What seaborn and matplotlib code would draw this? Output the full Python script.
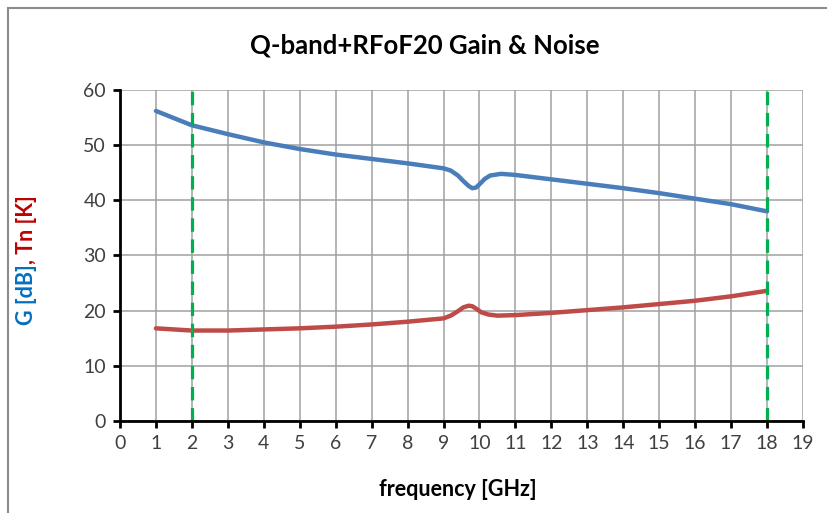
import pandas as pd
import matplotlib
matplotlib.use("Agg")
import matplotlib.pyplot as plt
from matplotlib.patches import Rectangle
import seaborn as sns

# Values
gain_freq = [1, 2, 3, 4, 5, 6, 7, 8, 9, 9.2, 9.4, 9.55, 9.7, 9.8, 9.9, 10.0, 10.15, 10.3,
             10.6, 11, 12, 13, 14, 15, 16, 17, 18]
gain_db = [56.2, 53.6, 52.0, 50.5, 49.3, 48.3, 47.5, 46.7, 45.8, 45.4, 44.5, 43.5, 42.6,
           42.2, 42.3, 42.9, 43.9, 44.5, 44.8, 44.6, 43.8, 43.0, 42.2, 41.3, 40.3, 39.3, 38.0]

noise_freq = [1, 2, 3, 4, 5, 6, 7, 8, 9, 9.2, 9.4, 9.55, 9.7, 9.8, 9.9, 10.05, 10.25,
              10.5, 11, 12, 13, 14, 15, 16, 17, 18]
noise_k = [16.8, 16.4, 16.4, 16.6, 16.8, 17.1, 17.5, 18.0, 18.6, 19.1, 19.9, 20.6, 20.9,
           20.8, 20.4, 19.7, 19.3, 19.1, 19.2, 19.6, 20.1, 20.6, 21.2, 21.8, 22.6, 23.6]

band_edges = [2, 18]
x_ticks = list(range(0, 20))
y_ticks = list(range(0, 70, 10))

df = pd.concat([
    pd.DataFrame({"freq": gain_freq, "value": gain_db, "series": "G"}),
    pd.DataFrame({"freq": noise_freq, "value": noise_k, "series": "Tn"}),
])

sns.set_theme(style="whitegrid")
plt.rcParams["font.family"] = ["Lato", "DejaVu Sans"]

fig = plt.figure(figsize=(8.27, 5.13), dpi=100)
ax = fig.add_axes([0.1451, 0.1793, 0.8259, 0.6453])

sns.lineplot(data=df, x="freq", y="value", hue="series",
             palette={"G": "#4a7ebb", "Tn": "#be4b48"},
             linewidth=3.2, legend=False, ax=ax, zorder=3, sort=False)
for line in ax.lines:
    line.set_solid_joinstyle("round")
    line.set_solid_capstyle("round")

for xe in band_edges:
    ax.axvline(xe, color="#00b050", linewidth=2.3, dashes=(4.2, 2.4), zorder=4)

ax.set_xlim(0, 19)
ax.set_ylim(0, 60)
ax.set_xticks(x_ticks)
ax.set_yticks(y_ticks)
ax.grid(True, color="#a0a0a0", linewidth=1.1)
ax.set_xlabel("")
ax.set_ylabel("")

for side in ["top", "right"]:
    ax.spines[side].set_visible(False)
for side in ["left", "bottom"]:
    ax.spines[side].set_color("black")
    ax.spines[side].set_linewidth(2)
    ax.spines[side].set_zorder(5)

ax.tick_params(axis="both", direction="out", length=5, width=2, color="black",
               labelsize=14, labelcolor="#404040", pad=5)
ax.tick_params(axis="x", bottom=True)
ax.tick_params(axis="y", left=True)

fig.text(0.513, 0.912, "Q-band+RFoF20 Gain & Noise", ha="center", va="center",
         fontsize=18.5, fontweight="bold", color="black")
fig.text(0.5537, 0.045, "frequency [GHz]", ha="center", va="center",
         fontsize=15.5, fontweight="bold", color="black")

# y label in two colours
t1 = fig.text(0.0326, 0.366, "G [dB]", rotation=90, ha="center", va="bottom",
              fontsize=15.5, fontweight="bold", color="#0070c0")
ax.annotate(", Tn [K]", xy=(0.5, 1), xycoords=t1, rotation=90, ha="center",
            va="bottom", fontsize=15.5, fontweight="bold", color="#c00000",
            annotation_clip=False)

# chart frame like the spreadsheet export
fig.patches.append(Rectangle((8 / 827, -0.05), 1.1, 1 - 8 / 513 + 0.05,
                             transform=fig.transFigure, fill=False,
                             edgecolor="#8c8c8c", linewidth=1.5))

fig.savefig("out.png", dpi=100, facecolor="white")
